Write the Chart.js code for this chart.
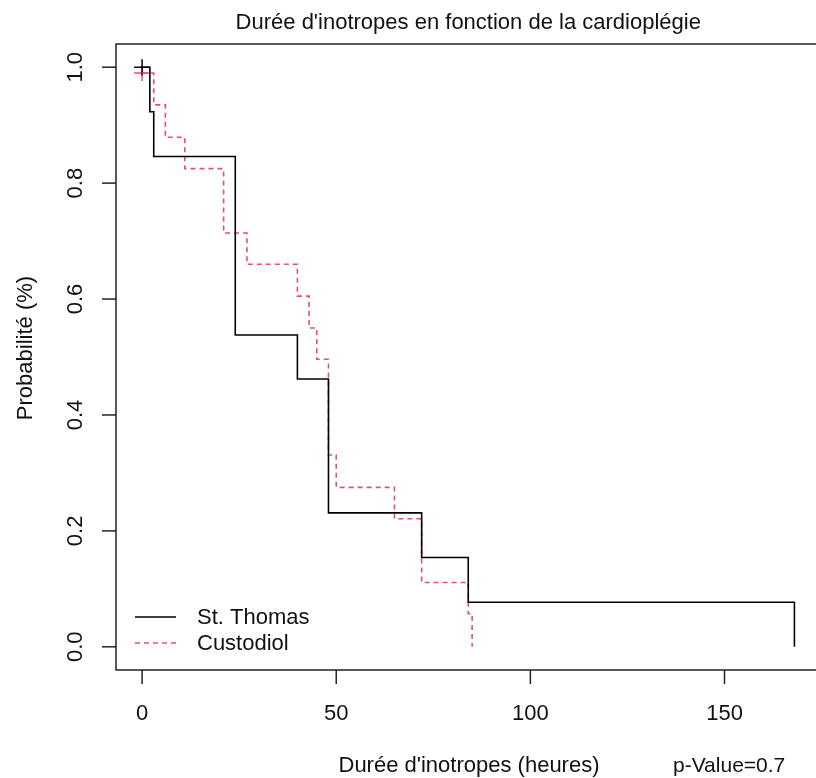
<!DOCTYPE html>
<html>
<head>
<meta charset="utf-8">
<script src="https://cdn.jsdelivr.net/npm/chart.js@4/dist/chart.umd.min.js"></script>
<style>
html,body{margin:0;padding:0;background:#fff;overflow:hidden;}
#wrap{width:830px;height:778px;position:relative;}
</style>
</head>
<body>
<div id="wrap"><canvas id="c" width="830" height="778"></canvas></div>
<script>
// ---- data ----
const titleText = "Durée d'inotropes en fonction de la cardioplégie";
const xTitle = "Durée d'inotropes (heures)";
const yTitle = "Probabilité (%)";
const pValueText = "p-Value=0.7";
const seriesNames = ["St. Thomas", "Custodiol"];

const stThomasTime = [0, 2, 3, 24, 40, 48, 72, 84, 168];
const stThomasSurv = [1.0, 0.923, 0.846, 0.538, 0.462, 0.231, 0.154, 0.077, 0.0];

const custodiolTime = [0, 3, 6, 11, 21, 27, 40, 43, 45, 48, 50, 65, 72, 84, 85];
const custodiolSurv = [0.990, 0.935, 0.879, 0.825, 0.714, 0.660, 0.605, 0.550, 0.496, 0.331, 0.275, 0.221, 0.111, 0.057, 0.0];

const stThomasCensorTime = [0];
const stThomasCensorSurv = [1.0];
const custodiolCensorTime = [0];
const custodiolCensorSurv = [0.990];

const xTicks = [0, 50, 100, 150];
const yTicks = [0.0, 0.2, 0.4, 0.6, 0.8, 1.0];
const yTickLabels = ["0.0", "0.2", "0.4", "0.6", "0.8", "1.0"];

// ---- build ----
const toXY = (t, s) => t.map((v, i) => ({x: v, y: s[i]}));
const BLACK = '#000000';
const RED = '#DF536B';
const FONT = '"Liberation Sans", Arial, sans-serif';

const decor = {
  id: 'decor',
  afterDraw(chart) {
    const ctx = chart.ctx;
    const a = chart.chartArea;
    const xs = chart.scales.x, ys = chart.scales.y;
    ctx.save();
    // box
    ctx.strokeStyle = '#222';
    ctx.lineWidth = 1.5;
    ctx.strokeRect(a.left, a.top, a.right - a.left, a.bottom - a.top);
    ctx.fillStyle = '#111';
    ctx.font = '22px ' + FONT;
    // x ticks
    ctx.textAlign = 'center';
    ctx.textBaseline = 'alphabetic';
    xTicks.forEach(v => {
      const px = xs.getPixelForValue(v);
      ctx.beginPath();
      ctx.moveTo(px, a.bottom);
      ctx.lineTo(px, a.bottom + 14);
      ctx.stroke();
      ctx.fillText(String(v), px, 719.5);
    });
    // y ticks
    yTicks.forEach((v, i) => {
      const py = ys.getPixelForValue(v);
      ctx.beginPath();
      ctx.moveTo(a.left, py);
      ctx.lineTo(a.left - 14, py);
      ctx.stroke();
      ctx.save();
      ctx.translate(82, py);
      ctx.rotate(-Math.PI / 2);
      ctx.textAlign = 'center';
      ctx.fillText(yTickLabels[i], 0, 0);
      ctx.restore();
    });
    // title
    ctx.textAlign = 'center';
    ctx.fillText(titleText, (a.left + a.right) / 2, 29);
    // x title
    ctx.fillText(xTitle, 469, 771.5);
    // y title
    ctx.save();
    ctx.translate(32, 348);
    ctx.rotate(-Math.PI / 2);
    ctx.fillText(yTitle, 0, 0);
    ctx.restore();
    // p-value
    ctx.textAlign = 'left';
    ctx.font = '21px ' + FONT;
    ctx.fillText(pValueText, 673, 771.5);
    // legend
    ctx.font = '22px ' + FONT;
    const legY = [617, 643];
    const legCol = [BLACK, RED];
    const legDash = [[], [5, 4]];
    for (let i = 0; i < 2; i++) {
      ctx.strokeStyle = legCol[i];
      ctx.lineWidth = 1.5;
      ctx.setLineDash(legDash[i]);
      ctx.beginPath();
      ctx.moveTo(135, legY[i]);
      ctx.lineTo(176, legY[i]);
      ctx.stroke();
      ctx.setLineDash([]);
      ctx.textBaseline = 'middle';
      ctx.fillText(seriesNames[i], 197, legY[i] + 1);
    }
    ctx.restore();
  }
};

new Chart(document.getElementById('c'), {
  type: 'line',
  data: {
    datasets: [
      {label: seriesNames[0], data: toXY(stThomasTime, stThomasSurv), stepped: true,
       borderColor: BLACK, borderWidth: 1.6, pointRadius: 0, fill: false},
      {label: seriesNames[1], data: toXY(custodiolTime, custodiolSurv), stepped: true,
       borderColor: RED, borderWidth: 1.6, borderDash: [5, 4], pointRadius: 0, fill: false},
      {label: 'c1', data: toXY(stThomasCensorTime, stThomasCensorSurv), showLine: false,
       pointStyle: 'cross', pointRadius: 8, borderColor: BLACK, pointBorderWidth: 1.5, borderWidth: 1.5},
      {label: 'c2', data: toXY(custodiolCensorTime, custodiolCensorSurv), showLine: false,
       pointStyle: 'cross', pointRadius: 8, borderColor: RED, pointBorderWidth: 1.5, borderWidth: 1.5}
    ]
  },
  options: {
    responsive: false,
    animation: false,
    devicePixelRatio: 1,
    layout: {padding: {left: 116, top: 44, right: 6.6, bottom: 108}},
    scales: {
      x: {type: 'linear', min: -6.72, max: 174.72, display: false},
      y: {type: 'linear', min: -0.04, max: 1.04, display: false}
    },
    plugins: {legend: {display: false}, title: {display: false}, tooltip: {enabled: false}}
  },
  plugins: [decor]
});
</script>
</body>
</html>
